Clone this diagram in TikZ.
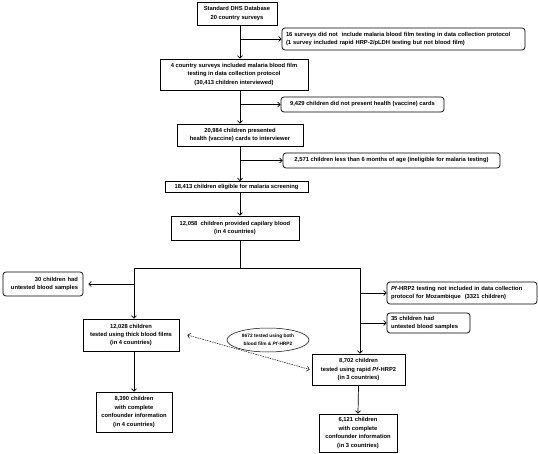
\documentclass[tikz,border=0pt]{standalone}
\usepackage{fontspec}
\setmainfont{Liberation Sans}
\usetikzlibrary{arrows.meta,shapes.geometric}
\begin{document}
\begin{tikzpicture}[x=1pt,y=-1pt,
  every node/.style={font=\fontsize{5.8}{8.4}\selectfont\bfseries, inner sep=0pt},
  sq/.style 2 args={draw, line width=0.7pt, minimum width=#1, minimum height=#2, align=center},
  rb/.style 2 args={draw, line width=0.7pt, rounded corners=3pt, minimum width=#1, minimum height=#2, align=center},
  rbl/.style 2 args={draw, line width=0.7pt, rounded corners=3pt, inner xsep=4pt, text width=#1-8pt, minimum height=#2, align=left},
  rbr/.style 2 args={draw, line width=0.7pt, rounded corners=3pt, inner xsep=5pt, text width=#1-10pt, minimum height=#2, align=right},
  conn/.style={draw, line width=0.7pt},
  arr/.style={conn, -{Straight Barb[length=2.5pt,width=5pt]}},
  dasharr/.style={draw, line width=0.5pt, dashed, dash pattern=on 1.5pt off 1pt, {Straight Barb[length=2.5pt,width=5pt]}-{Straight Barb[length=2.5pt,width=5pt]}}
]
\useasboundingbox (0,0) rectangle (538,454);
\coordinate (sp) at (240,0);
\coordinate (lv) at (134,0);
\coordinate (rv) at (360,0);

\node[sq={80}{23}] (dhs) at (237,13.5) {Standard DHS Database\\20 country surveys};
\node[rbl={243pt}{22}] (ex16) at (403.5,39) {16 surveys did not\ \ include malaria blood film testing in data collection protocol\\(1 survey included rapid HRP-2/pLDH testing but not blood film)};
\node[sq={148}{31}] (four) at (234,74.5) {4 country surveys included malaria blood film\\testing in data collection protocol\\(30,413 children interviewed)};
\node[rb={163}{15}] (ex9429) at (362.5,104.5) {9,429 children did not present health (vaccine) cards};
\node[sq={126}{22}] (n20984) at (240,135) {20,984 children presented\\health (vaccine) cards to interviewer};
\node[rb={217}{15}] (ex2571) at (391.5,160.5) {2,571 children less than 6 months of age (ineligible for malaria testing)};
\node[sq={143}{11}] (n18413) at (236.5,187) {18,413 children eligible for malaria screening};
\node[sq={128}{24}] (n12058) at (235,228) {12,058\ \ children provided capilary blood\\(in 4 countries)};
\node[rbr={80pt}{24}] (ex30) at (43,284) {30 children had\\untested blood samples};
\node[sq={96}{32}] (n12028) at (131,335) {12,028 children\\tested using thick blood films\\(in 4 countries)};
\node[rbl={150pt}{22}] (exPf) at (462,293) {\textit{Pf}-HRP2 testing not included in data collection\\protocol for Mozambique\ \ (3321 children)};
\node[rbl={83pt}{20}] (ex35) at (428.5,323) {35 children had\\untested blood samples};
\node[sq={93}{31}] (n8702) at (358.5,369.5) {8,702 children\\tested using rapid \textit{Pf}-HRP2\\(in 3 countries)};
\node[sq={76}{40}] (n8390) at (134,412) {8,390 children\\with complete\\confounder information\\(in 4 countries)};
\node[sq={78}{38}] (n6121) at (358,433) {6,121 children\\with complete\\confounder information\\(in 3 countries)};
\node[draw, ellipse, line width=0.5pt, minimum width=82, minimum height=24, inner sep=0pt, align=center, font=\fontsize{4.8}{7.5}\selectfont\bfseries] (both) at (268,340) {8672 tested using both\\blood film \& \textit{Pf}-HRP2};

% spine
\draw[arr] (sp |- dhs.south) -- (sp |- four.north);
\draw[arr] (sp |- ex16.west) -- (ex16.west);
\draw[arr] (sp |- four.south) -- (sp |- n20984.north);
\draw[arr] (sp |- ex9429.west) -- (ex9429.west);
\draw[arr] (sp |- n20984.south) -- (sp |- n18413.north);
\draw[arr] (sp |- ex2571.west) -- (ex2571.west);
\draw[arr] (sp |- n18413.south) -- (sp |- n12058.north);
\coordinate (split) at (240,268);
\draw[conn] (sp |- n12058.south) -- (split);
% left branch
\draw[arr] (split) -| (lv |- n12028.north);
\draw[arr] (lv |- ex30.east) -- ([xshift=5pt]ex30.east);
\draw[arr] (lv |- n12028.south) -- (lv |- n8390.north);
% right branch
\draw[arr] (split) -| (rv |- n8702.north);
\draw[arr] (rv |- exPf.west) -- (exPf.west);
\draw[arr] (rv |- ex35.west) -- (ex35.west);
\draw[arr] (n8702.south) -- (n6121.north);
% dashed link
\draw[dasharr] ([xshift=8pt]n12028.east) -- ([xshift=-2pt]n8702.west);
\end{tikzpicture}
\end{document}
